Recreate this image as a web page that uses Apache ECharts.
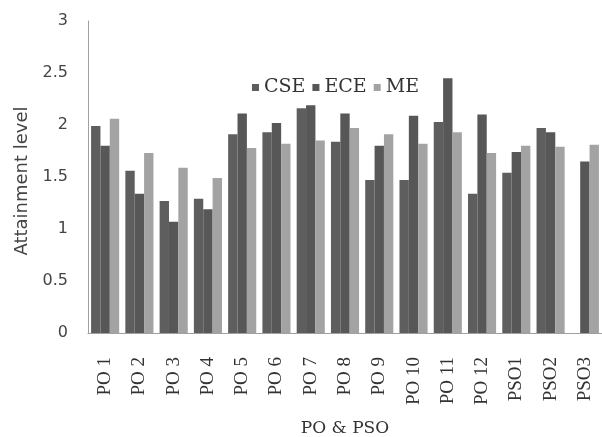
<!DOCTYPE html>
<html>
<head>
<meta charset="utf-8">
<script src="https://cdn.jsdelivr.net/npm/echarts@6/dist/echarts.min.js"></script>
<style>
html,body{margin:0;padding:0;background:#fff;}
#chart{width:602px;height:437px;}
</style>
</head>
<body>
<div id="chart"></div>
<script>
var categories = ['PO 1','PO 2','PO 3','PO 4','PO 5','PO 6','PO 7','PO 8','PO 9','PO 10','PO 11','PO 12','PSO1','PSO2','PSO3'];
var cse = [1.99,1.56,1.27,1.29,1.91,1.93,2.16,1.84,1.47,1.47,2.03,1.34,1.54,1.97,null];
var ece = [1.80,1.34,1.07,1.19,2.11,2.02,2.19,2.11,1.80,2.09,2.45,2.10,1.74,1.93,1.65];
var me  = [2.06,1.73,1.59,1.49,1.78,1.82,1.85,1.97,1.91,1.82,1.93,1.73,1.80,1.79,1.81];
var yTicks = [0,0.5,1,1.5,2,2.5,3];

var chart = echarts.init(document.getElementById('chart'), null, {renderer:'canvas'});
chart.setOption({
  animation:false,
  backgroundColor:'#fff',
  grid:{left:88, right:0, top:21, bottom:104, containLabel:false, outerBoundsMode:'none'},
  legend:{
    left:247, top:73,
    itemWidth:7, itemHeight:7, itemGap:7,
    icon:'rect',
    textStyle:{fontFamily:'DejaVu Serif', fontSize:19, color:'#333'},
    data:['CSE','ECE','ME']
  },
  xAxis:{
    type:'category',
    data:categories,
    name:'PO & PSO',
    nameLocation:'middle',
    nameGap:87,
    nameTextStyle:{fontFamily:'DejaVu Serif', fontSize:17, color:'#333'},
    axisLine:{lineStyle:{color:'#a0a0a0', width:1}},
    axisTick:{show:false},
    axisLabel:{rotate:90, margin:24, fontFamily:'Liberation Serif', fontSize:19, color:'#333', interval:0}
  },
  yAxis:{
    type:'value',
    min:yTicks[0], max:yTicks[yTicks.length-1], interval:0.5,
    name:'Attainment level',
    nameLocation:'middle',
    nameGap:47,
    nameRotate:90,
    nameTextStyle:{fontFamily:'DejaVu Sans', fontSize:18, color:'#444', padding:[0,8,0,0]},
    axisLine:{show:true, lineStyle:{color:'#a0a0a0', width:1}},
    axisTick:{show:false},
    splitLine:{show:false},
    axisLabel:{margin:20, fontFamily:'DejaVu Sans', fontSize:16, color:'#444'}
  },
  series:[
    {name:'CSE', type:'bar', data:cse, barGap:'0%', barCategoryGap:'18%', itemStyle:{color:'#5e5e5e'}},
    {name:'ECE', type:'bar', data:ece, barGap:'0%', barCategoryGap:'18%', itemStyle:{color:'#575757'}},
    {name:'ME', type:'bar', data:me, barGap:'0%', barCategoryGap:'18%', itemStyle:{color:'#a3a3a3'}}
  ]
});
</script>
</body>
</html>
